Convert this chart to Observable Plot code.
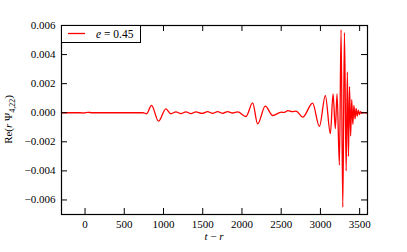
<!DOCTYPE html>
<html><head><meta charset="utf-8">
<script src="https://cdn.jsdelivr.net/npm/d3@7"></script>
<script src="https://cdn.jsdelivr.net/npm/@observablehq/plot@0.6"></script>
<style>body{margin:0;background:#fff} svg{display:block}</style>
</head><body><div id="chart"></div>
<script>
// Waveform samples (t - r, Re(r Psi_4,22))
const tMinusR = [-300,-60,-20,40,90,300,740,785,847,937,1030,1094,1158,1222,1285,1350,1413,1490,1562,1625,1690,1755,1817,1880,1945,2051,2136,2200,2297,2392,2500,2540,2585,2640,2690,2775,2900,2987,3063,3127,3161,3190,3212,3242,3263,3285,3306,3328,3343,3357,3371,3385,3399,3413,3427,3441,3455,3469,3483,3497,3511,3525,3539,3553,3600];
const rePsi = [0,0,-0.00002,0.00003,0,0,0,-0.00007,0.0005,-0.00058,0.00027,-0.00007,0.00006,-0.00006,0.00006,-0.00006,0.00006,-0.00005,0.00007,-0.00004,0.00007,-0.00004,0.00008,-0.00002,0.00006,-0.00026,0.00068,-0.00077,0.00045,-0.00019,0.00004,0.00002,0.00015,0.00008,0.00011,-0.0003,0.00066,-0.00094,0.00118,-0.00144,0.0013,-0.0011,0.0013,-0.0036,0.0057,-0.0065,0.0055,-0.004,0.0028,-0.003,0.0018,-0.0016,0.0009,-0.0008,0.0005,-0.00042,0.0003,-0.00024,0.00017,-0.00012,0.00008,-0.00005,0.00003,0,0];
const xTicks = [0,500,1000,1500,2000,2500,3000,3500];
const yTicks = [-0.006,-0.004,-0.002,0,0.002,0.004,0.006];
const xDomain = [-300,3600];
const yDomain = [-0.007,0.006];
const legendText = ["e"," = 0.45"];

const data = tMinusR.map((t,i)=>({t, v: rePsi[i]}));
const W=407,H=252,mL=61,mR=40,mT=25,mB=38;
const innerH=H-mT-mB, innerW=W-mL-mR;
const font = "'Liberation Serif', 'DejaVu Serif', serif";

const svg = Plot.plot({
  width:W, height:H, marginLeft:mL, marginRight:mR, marginTop:mT, marginBottom:mB,
  style:{fontFamily:font, fontSize:"11px", background:"white", color:"black"},
  x:{domain:xDomain},
  y:{domain:yDomain},
  marks:[
    Plot.line(data,{x:"t",y:"v",stroke:"red",strokeWidth:1.3,curve:"monotone-x"}),
    Plot.axisX(xTicks,{anchor:"bottom",tickSize:0,tickPadding:6,label:null,tickFormat:d=>String(d)}),
    Plot.axisY(yTicks,{anchor:"left",tickSize:0,tickPadding:6,label:null,tickFormat:d3.format(".3f")}),
    Plot.ruleX(xTicks,{insetTop:innerH-6,stroke:"black"}),
    Plot.ruleX(xTicks,{insetBottom:innerH-6,stroke:"black"}),
    Plot.ruleY(yTicks,{insetRight:innerW-6,stroke:"black"}),
    Plot.ruleY(yTicks,{insetLeft:innerW-6,stroke:"black"}),
    Plot.frame({stroke:"black",strokeWidth:1.2})
  ]
});
document.getElementById("chart").appendChild(svg);

const s = d3.select(svg);
// legend
const lg = s.append("g");
lg.append("rect").attr("x",mL+0.5).attr("y",mT+0.5).attr("width",79).attr("height",17)
  .attr("fill","white").attr("stroke","black").attr("stroke-width",1);
lg.append("line").attr("x1",68).attr("x2",85).attr("y1",33.5).attr("y2",33.5)
  .attr("stroke","red").attr("stroke-width",1.3);
const lt = lg.append("text").attr("x",96).attr("y",38).attr("text-anchor","start")
  .attr("font-family",font).attr("font-size",11.5).attr("fill","black");
lt.append("tspan").attr("font-style","italic").text(legendText[0]);
lt.append("tspan").text(legendText[1]);

// y label
const yl = s.append("text").attr("transform",`translate(12,${(mT+H-mB)/2}) rotate(-90)`)
  .attr("text-anchor","middle").attr("font-family",font).attr("font-size",11).attr("fill","black");
yl.append("tspan").text("Re(");
yl.append("tspan").attr("font-style","italic").text("r");
yl.append("tspan").text(" Ψ");
yl.append("tspan").attr("font-size",8).attr("dy",2.5).text("4,22");
yl.append("tspan").attr("dy",-2.5).text(")");

// x label
const xl = s.append("text").attr("x",(mL+W-mR)/2).attr("y",240)
  .attr("text-anchor","middle").attr("font-family",font).attr("font-size",11).attr("fill","black");
xl.append("tspan").attr("font-style","italic").text("t");
xl.append("tspan").text(" − ");
xl.append("tspan").attr("font-style","italic").text("r");
</script>
</body></html>
